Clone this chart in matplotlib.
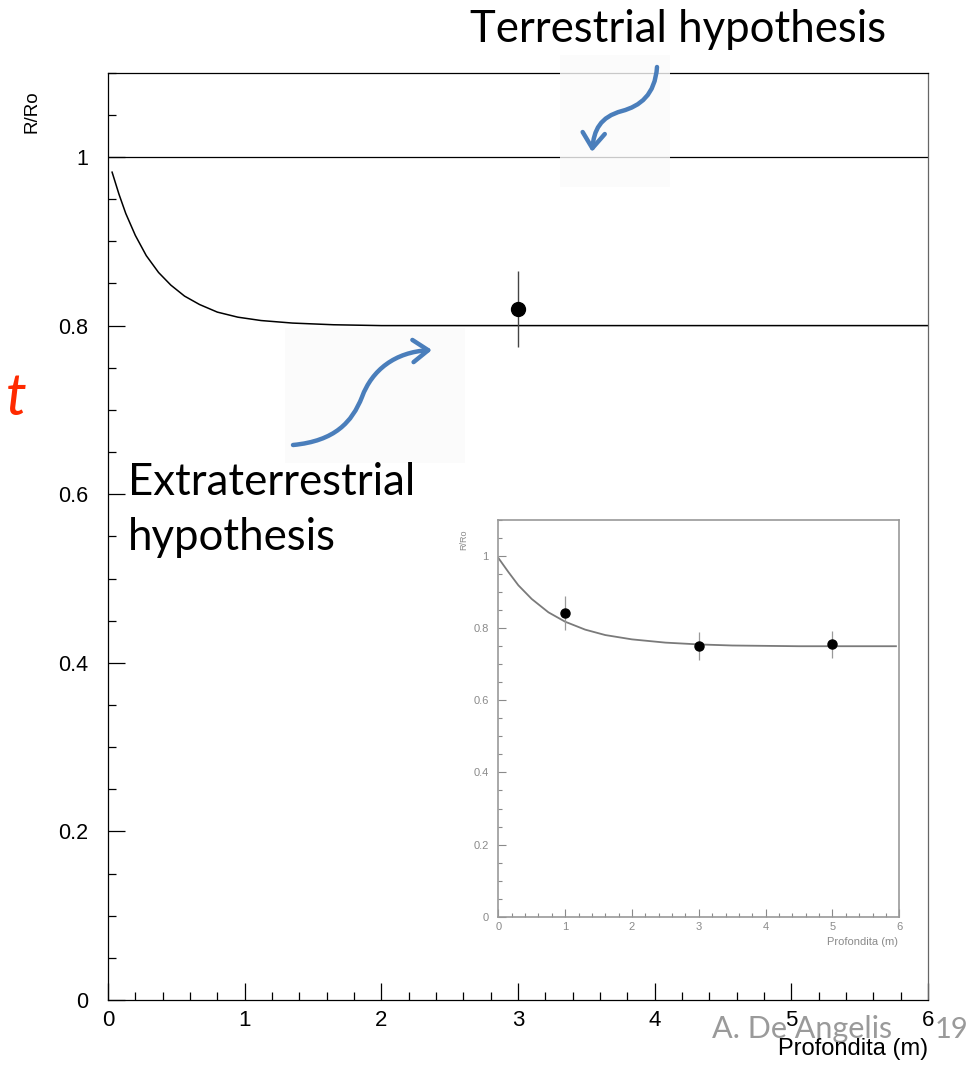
import matplotlib
matplotlib.use("Agg")
import matplotlib.pyplot as plt
from matplotlib.path import Path
from matplotlib.patches import FancyArrowPatch, Rectangle
from matplotlib.transforms import IdentityTransform
from matplotlib.ticker import MultipleLocator

W, H = 974, 1066

# main plot: extraterrestrial fit curve
main_curve_x = [0.03, 0.08, 0.13, 0.20, 0.28, 0.37, 0.46, 0.56, 0.67, 0.80,
                0.95, 1.12, 1.35, 1.65, 2.00, 3.00, 6.00]
main_curve_y = [0.982, 0.956, 0.933, 0.907, 0.883, 0.863, 0.848, 0.835, 0.825,
                0.816, 0.810, 0.806, 0.803, 0.801, 0.800, 0.800, 0.800]
terrestrial_level = 1.0

measure_x = [3.0]
measure_y = [0.82]
measure_err = [0.045]

# inset plot (original data)
inset_curve_x = [0.0, 0.15, 0.30, 0.50, 0.75, 1.00, 1.30, 1.60, 2.00, 2.50,
                 3.00, 3.50, 4.50, 5.95]
inset_curve_y = [0.995, 0.956, 0.919, 0.881, 0.844, 0.818, 0.796, 0.781, 0.769,
                 0.760, 0.755, 0.752, 0.750, 0.750]
inset_x = [1, 3, 5]
inset_y = [0.842, 0.751, 0.755]
inset_err = [0.046, 0.039, 0.038]

x_ticks = [0, 1, 2, 3, 4, 5, 6]
x_labels = ["0", "1", "2", "3", "4", "5", "6"]
y_ticks = [0, 0.2, 0.4, 0.6, 0.8, 1.0]
y_labels = ["0", "0.2", "0.4", "0.6", "0.8", "1"]

SANS = ["Liberation Sans", "DejaVu Sans"]
SLIDE = ["Lato", "DejaVu Sans"]


def px(x, y):
    # pixel position (from top-left) to display coords
    return (x, H - y)


def fig_box(left, top, right, bottom):
    return [left / W, (H - bottom) / H, (right - left) / W, (bottom - top) / H]


def draw_main(fig):
    ax = fig.add_axes(fig_box(108, 72.7, 928, 1000))
    ax.plot(main_curve_x, main_curve_y, color="black", lw=1.1, zorder=2)
    ax.axhline(terrestrial_level, color="black", lw=0.9, zorder=2)
    ax.errorbar(measure_x, measure_y, yerr=measure_err, fmt="o", color="black",
                ecolor="#444444", elinewidth=1.0, ms=10, capsize=0, zorder=3)
    ax.set_xlim(0, 6)
    ax.set_ylim(0, 1.1)
    ax.set_xticks(x_ticks)
    ax.set_xticklabels(x_labels, family=SANS, fontsize=16)
    ax.set_yticks(y_ticks)
    ax.set_yticklabels(y_labels, family=SANS, fontsize=15.5)
    ax.xaxis.set_minor_locator(MultipleLocator(0.2))
    ax.yaxis.set_minor_locator(MultipleLocator(0.05))
    ax.tick_params(which="both", direction="in", top=False, right=False,
                   width=0.9, color="black")
    ax.tick_params(which="major", length=12)
    ax.tick_params(which="minor", length=6)
    ax.tick_params(axis="y", pad=14)
    ax.tick_params(axis="x", pad=7)
    for s in ax.spines.values():
        s.set_linewidth(0.9)
    ax.spines["right"].set_color("#666666")

    fig.text(32 / W, (H - 112) / H, "R/Ro", rotation=90, ha="center",
             va="center", family=SANS, fontsize=13.5)
    fig.text(928 / W, (H - 1055) / H, "Profondita (m)", ha="right",
             va="baseline", family=SANS, fontsize=17, zorder=12)
    return ax


def draw_inset(fig):
    gray = "#8a8a8a"
    ax = fig.add_axes(fig_box(498.3, 520, 899.3, 916.7))
    ax.plot(inset_curve_x, inset_curve_y, color="#7a7a7a", lw=1.3)
    ax.errorbar(inset_x, inset_y, yerr=inset_err, fmt="o", color="black",
                ecolor="#999999", elinewidth=0.9, ms=6.5, capsize=0)
    ax.set_xlim(0, 6)
    ax.set_ylim(0, 1.1)
    ax.set_xticks(x_ticks)
    ax.set_xticklabels(x_labels, family=SANS, fontsize=8, color=gray)
    ax.set_yticks(y_ticks)
    ax.set_yticklabels(y_labels, family=SANS, fontsize=8, color=gray)
    ax.xaxis.set_minor_locator(MultipleLocator(0.2))
    ax.yaxis.set_minor_locator(MultipleLocator(0.05))
    ax.tick_params(which="both", direction="in", top=False, right=False,
                   width=0.8, color=gray)
    ax.tick_params(which="major", length=6)
    ax.tick_params(which="minor", length=3)
    ax.tick_params(axis="y", pad=7)
    ax.tick_params(axis="x", pad=4)
    for s in ax.spines.values():
        s.set_linewidth(1.2)
        s.set_color("#999999")

    fig.text(464 / W, (H - 540) / H, "R/Ro", rotation=90, ha="center",
             va="center", family=SANS, fontsize=6.5, color=gray)
    fig.text(898 / W, (H - 945) / H, "Profondita (m)", ha="right",
             va="baseline", family=SANS, fontsize=8, color=gray)


def s_arrow(fig, points):
    codes = [Path.MOVETO] + [Path.CURVE4] * (len(points) - 1)
    path = Path([px(x, y) for x, y in points], codes)
    arr = FancyArrowPatch(path=path, arrowstyle="->,head_length=0.55,head_width=0.4",
                          mutation_scale=20, color="#4a7ebb", lw=3.2,
                          transform=IdentityTransform(), zorder=10)
    fig.patches.append(arr)


def draw_notes(fig):
    # pale backgrounds of the pasted arrow pictures
    for (l, t, r, b) in [(285, 328, 465, 463), (560, 55, 670, 187)]:
        rect = Rectangle(px(l, b), r - l, b - t, transform=IdentityTransform(),
                         facecolor="#fbfbfb", edgecolor="none", alpha=0.8,
                         zorder=9)
        fig.patches.append(rect)

    s_arrow(fig, [(293, 445), (335, 441), (352, 422), (362, 397),
                  (372, 370), (395, 352), (432, 350)])
    s_arrow(fig, [(657, 67), (655, 95), (640, 106), (622, 111),
                  (600, 117), (594, 130), (592, 152)])

    fig.text(470 / W, (H - 42) / H, "Terrestrial hypothesis", family=SLIDE,
             fontsize=31.5, va="baseline", ha="left", zorder=11)
    fig.text(128 / W, (H - 495) / H, "Extraterrestrial", family=SLIDE,
             fontsize=31.5, va="baseline", ha="left", zorder=11)
    fig.text(128 / W, (H - 550) / H, "hypothesis", family=SLIDE,
             fontsize=31.5, va="baseline", ha="left", zorder=11)
    fig.text(6 / W, (H - 415) / H, "t", family=SLIDE, style="italic",
             fontsize=42, color="#ff2a00", va="baseline", ha="left", zorder=11)
    fig.text(712 / W, (H - 1038) / H, "A. De Angelis", family=SLIDE,
             fontsize=22, color="#9a9a9a", va="baseline", ha="left", zorder=11)
    fig.text(935 / W, (H - 1038) / H, "19", family=SLIDE,
             fontsize=21, color="#9a9a9a", va="baseline", ha="left", zorder=11)


def main():
    fig = plt.figure(figsize=(W / 100, H / 100), dpi=100)
    draw_main(fig)
    draw_inset(fig)
    draw_notes(fig)
    fig.savefig("out.png", dpi=100)
    plt.close(fig)


if __name__ == "__main__":
    main()
